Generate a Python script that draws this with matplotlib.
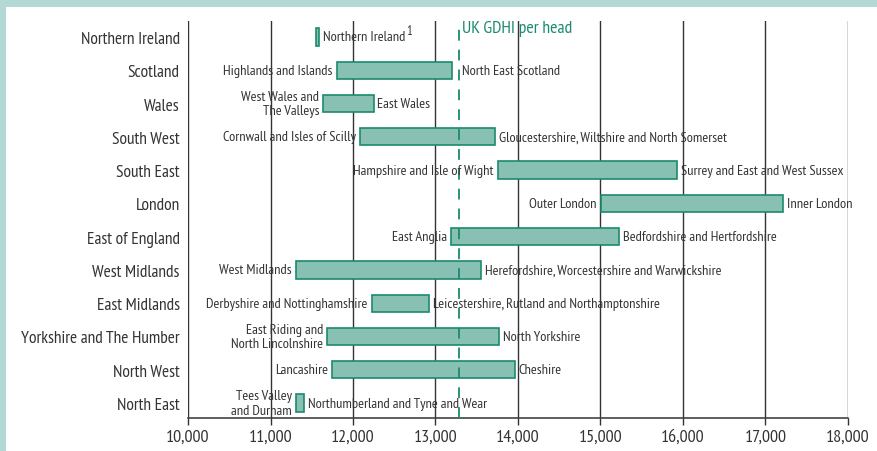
import matplotlib
matplotlib.use("Agg")
import matplotlib.pyplot as plt
from matplotlib.patches import Rectangle

plt.rcParams['font.family'] = ["PT Sans Narrow", "Roboto Condensed", "DejaVu Sans"]

regions = ["North East", "North West", "Yorkshire and The Humber", "East Midlands",
           "West Midlands", "East of England", "London", "South East", "South West",
           "Wales", "Scotland", "Northern Ireland"]
low_vals = [11313, 11745, 11685, 12230, 11309, 13188, 15006, 13758, 12085, 11640, 11806, 11555]
high_vals = [11410, 13964, 13770, 12921, 13552, 15224, 17212, 15927, 13725, 12250, 13200, 11590]
low_labels = ["Tees Valley\nand Durham", "Lancashire", "East Riding and\nNorth Lincolnshire",
              "Derbyshire and Nottinghamshire", "West Midlands", "East Anglia", "Outer London",
              "Hampshire and Isle of Wight", "Cornwall and Isles of Scilly",
              "West Wales and\nThe Valleys", "Highlands and Islands", ""]
high_labels = ["Northumberland and Tyne and Wear", "Cheshire", "North Yorkshire",
               "Leicestershire, Rutland and Northamptonshire",
               "Herefordshire, Worcestershire and Warwickshire",
               "Bedfordshire and Hertfordshire", "Inner London",
               "Surrey and East and West Sussex",
               "Gloucestershire, Wiltshire and North Somerset", "East Wales",
               "North East Scotland", "Northern Ireland"]
uk_value = 13285
xticks = [10000, 11000, 12000, 13000, 14000, 15000, 16000, 17000, 18000]

TEAL = "#1a8a6e"
FILL = "#88c0b3"
TXT = "#333333"
BAND = "#b4d8d3"

fig = plt.figure(figsize=(8.78, 4.52), dpi=100)
fig.patches.append(Rectangle((0, 1 - 8/452), 1, 8/452, transform=fig.transFigure,
                             facecolor=BAND, edgecolor="none", zorder=0))
fig.patches.append(Rectangle((0, 0), 6/878, 1, transform=fig.transFigure,
                             facecolor=BAND, edgecolor="none", zorder=0))

ax = fig.add_axes([188/878, 1 - 419/452, 660/878, 397/452])
ypos = list(range(len(regions)))
ax.set_xlim(10000, 18000)
ax.set_ylim(-0.45, 11.48)

for x in xticks:
    ax.axvline(x, color="#333333", lw=1.0, zorder=1)

widths = [h - l for l, h in zip(low_vals, high_vals)]
ax.barh(ypos, widths, left=low_vals, height=0.52, color=FILL, edgecolor=TEAL,
        linewidth=1.2, zorder=2)

ax.axvline(uk_value, color=TEAL, lw=1.3, dashes=(6, 5), zorder=3)
ax.text(uk_value + 35, 11.5, "UK GDHI per head", color=TEAL, fontsize=12.8,
        va="top", ha="left", zorder=4)

for y, lo, hi, ll, hl in zip(ypos, low_vals, high_vals, low_labels, high_labels):
    if ll:
        ax.text(lo - 50, y, ll, ha="right", va="center", multialignment="right",
                fontsize=10.4, color=TXT, linespacing=1.15, zorder=4)
    gap = 120 if hl == "North East Scotland" else 45
    t = ax.text(hi + gap, y, hl, ha="left", va="center", fontsize=10.4, color=TXT, zorder=4)
    if hl == "Northern Ireland":
        ax.annotate("1", xy=(1, 0.5), xycoords=t, xytext=(1, 0), textcoords="offset points",
                    ha="left", va="bottom", fontsize=9, color=TXT, zorder=4)

ax.set_yticks(ypos)
ax.set_yticklabels(regions, fontsize=12.5, color=TXT)
ax.tick_params(axis="y", length=0, pad=6)
ax.set_xticks(xticks)
ax.set_xticklabels([f"{v:,}" for v in xticks], fontsize=13, color=TXT)
ax.tick_params(axis="x", length=5, width=1.0, color="#333333", pad=3)
for s in ["top", "right", "left"]:
    ax.spines[s].set_visible(False)
ax.spines["bottom"].set_color("#333333")
ax.spines["bottom"].set_linewidth(1.1)

fig.savefig("out.png", dpi=100)
